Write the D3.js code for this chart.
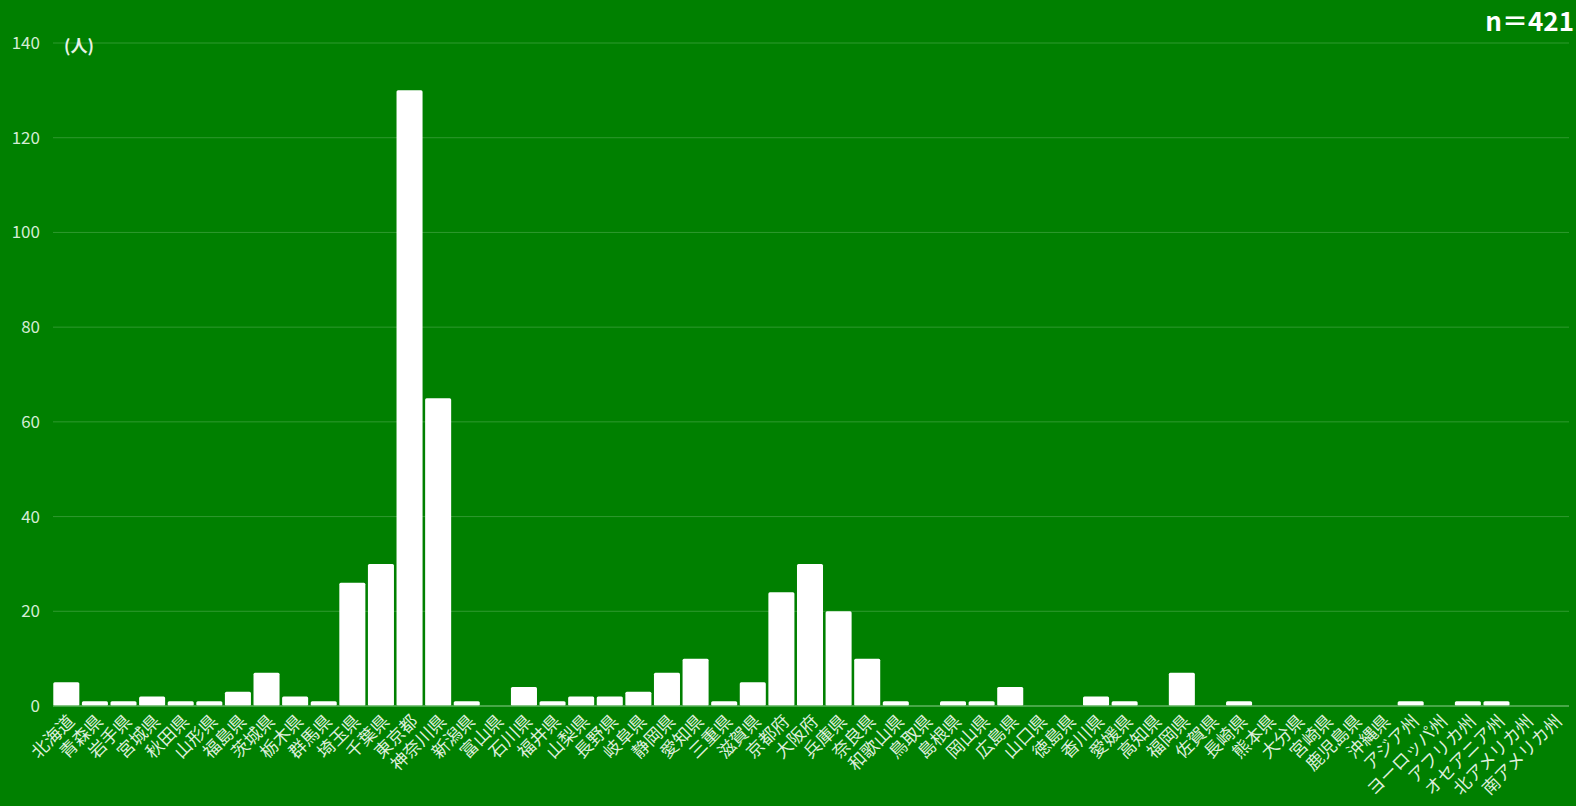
<!DOCTYPE html>
<html><head><meta charset="utf-8">
<script src="https://cdn.jsdelivr.net/npm/d3@7"></script>
<style>
html,body{margin:0;padding:0;background:#008000;}
svg{display:block;}
text{font-family:"Noto Sans CJK JP","Noto Sans",sans-serif;}
</style></head>
<body>
<script>
const categories = ["北海道","青森県","岩手県","宮城県","秋田県","山形県","福島県","茨城県","栃木県","群馬県","埼玉県","千葉県","東京都","神奈川県","新潟県","富山県","石川県","福井県","山梨県","長野県","岐阜県","静岡県","愛知県","三重県","滋賀県","京都府","大阪府","兵庫県","奈良県","和歌山県","鳥取県","島根県","岡山県","広島県","山口県","徳島県","香川県","愛媛県","高知県","福岡県","佐賀県","長崎県","熊本県","大分県","宮崎県","鹿児島県","沖縄県","アジア州","ヨーロッパ州","アフリカ州","オセアニア州","北アメリカ州","南アメリカ州"];
const values = [5,1,1,2,1,1,3,7,2,1,26,30,130,65,1,0,4,1,2,2,3,7,10,1,5,24,30,20,10,1,0,1,1,4,0,0,2,1,0,7,0,1,0,0,0,0,0,1,0,1,1,0,0];
const yTicks = [0,20,40,60,80,100,120,140];
const unitLabel = "(人)";
const nLabel = "n＝421";

const W = 1576, H = 806;
const svg = d3.select("body").append("svg").attr("width", W).attr("height", H);
svg.append("rect").attr("width", W).attr("height", H).attr("fill", "#008000");

const x = d3.scaleBand().domain(categories).range([52, 1568]).paddingInner(0.09).paddingOuter(0.045);
const y = d3.scaleLinear().domain([0, 140]).range([706, 43]);

// grid
svg.append("g").selectAll("line").data(yTicks.filter(d => d > 0)).join("line")
  .attr("x1", 53).attr("x2", 1569)
  .attr("y1", d => y(d)).attr("y2", d => y(d))
  .attr("stroke", "#2e992e").attr("stroke-width", 1);

// y tick labels
svg.append("g").selectAll("text").data(yTicks).join("text")
  .attr("x", 40).attr("y", d => y(d)).attr("dy", "0.35em")
  .attr("text-anchor", "end").attr("fill", "#d4ecd4").attr("font-size", 17)
  .text(d => d);

// bars
svg.append("g").selectAll("rect").data(categories).join("rect")
  .attr("x", d => x(d)).attr("width", x.bandwidth())
  .attr("y", (d, i) => y(values[i])).attr("height", (d, i) => y(0) - y(values[i]))
  .attr("fill", "#ffffff").attr("rx", 1.5);

// baseline
svg.append("line").attr("x1", 53).attr("x2", 1569).attr("y1", y(0)).attr("y2", y(0))
  .attr("stroke", "#5fb55f").attr("stroke-width", 1.5);

// x labels
svg.append("g").selectAll("text").data(categories).join("text")
  .attr("transform", d => `translate(${x(d) + x.bandwidth() / 2 + 5},${y(0) + 12}) rotate(-45)`)
  .attr("text-anchor", "end").attr("dy", "0.35em")
  .attr("fill", "#dcefdc").attr("font-size", 17.5)
  .text(d => d);

// unit
svg.append("text").attr("x", 64).attr("y", 46).attr("dy", "0.35em")
  .attr("fill", "#e6f3e6").attr("font-size", 17).attr("font-weight", "bold").text(unitLabel);

// n
svg.append("text").attr("x", 1574).attr("y", 22).attr("dy", "0.35em")
  .attr("text-anchor", "end").attr("fill", "#ffffff").attr("font-size", 26).attr("font-weight", "bold").text(nLabel);
</script>
</body></html>
